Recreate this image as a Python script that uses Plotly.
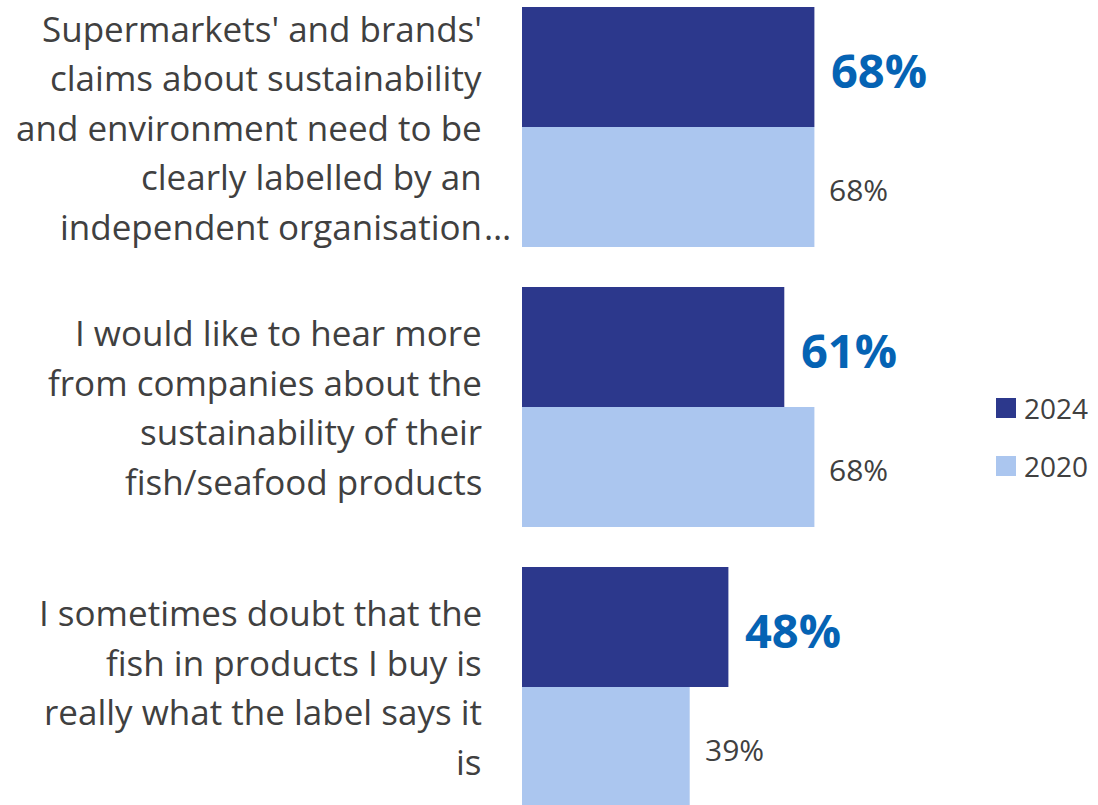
import plotly.graph_objects as go

# Survey statements (line breaks as shown on the axis)
categories = [
    "Supermarkets' and brands'<br>claims about sustainability<br>and environment need to be<br>clearly labelled by an<br>independent organisation…",
    "I would like to hear more<br>from companies about the<br>sustainability of their<br>fish/seafood products",
    "I sometimes doubt that the<br>fish in products I buy is<br>really what the label says it<br>is",
]
years = ["2024", "2020"]
values_2024 = [68, 61, 48]
values_2020 = [68, 68, 39]

NAVY = "#2C388C"
LIGHT = "#ABC6EF"
BLUE_LABEL = "#0563B4"
GREY = "#404040"
FONT = "Open Sans, Noto Sans, sans-serif"

W, H = 1098, 805
LEFT = 522
PX_PER_PCT = 4.3
BARGAP = 40 / 280

idx = list(range(len(categories)))

fig = go.Figure()
fig.add_trace(go.Bar(name=years[0], y=idx, x=values_2024, orientation="h",
                     marker=dict(color=NAVY, line=dict(width=0)), showlegend=False))
fig.add_trace(go.Bar(name=years[1], y=idx, x=values_2020, orientation="h",
                     marker=dict(color=LIGHT, line=dict(width=0)), showlegend=False))

half = (1 - BARGAP) / 4  # centre offset of each bar within its group

annotations = []
for i, (v24, v20) in enumerate(zip(values_2024, values_2020)):
    annotations.append(dict(x=v24, y=i - half, xref="x", yref="y", text=f"<b>{v24}%</b>",
                            showarrow=False, xanchor="left", yanchor="middle",
                            xshift=15, yshift=-3,
                            font=dict(family=FONT, size=47, color=BLUE_LABEL)))
    annotations.append(dict(x=v20, y=i + half, xref="x", yref="y", text=f"{v20}%",
                            showarrow=False, xanchor="left", yanchor="middle",
                            xshift=13, yshift=-2,
                            font=dict(family=FONT, size=30, color=GREY)))

# Category labels, one annotation per line for even line spacing;
# a trailing ellipsis hangs past the right edge of the text block
LINE_STEP = 49.5
LABEL_FONT = dict(family=FONT, size=35, color=GREY)
for i, cat in enumerate(categories):
    lines = cat.split("<br>")
    n = len(lines)
    for j, line in enumerate(lines):
        ys = -(j - (n - 1) / 2) * LINE_STEP
        tail = ""
        if line.endswith("…"):
            line, tail = line[:-1], "…"
        annotations.append(dict(x=0, y=i, xref="x", yref="y", text=line, showarrow=False,
                                xanchor="right", yanchor="middle", xshift=-38, yshift=ys,
                                font=LABEL_FONT))
        if tail:
            annotations.append(dict(x=0, y=i, xref="x", yref="y", text=tail, showarrow=False,
                                    xanchor="left", yanchor="middle", xshift=-40, yshift=ys,
                                    font=LABEL_FONT))

# Legend
legend_colors = [NAVY, LIGHT]
shapes = []
for k, (yr, col) in enumerate(zip(years, legend_colors)):
    yc = 1 - (408 + 58 * k) / H
    shapes.append(dict(type="rect", xref="paper", yref="paper",
                       x0=(996 - LEFT) / (W - LEFT), x1=(1016 - LEFT) / (W - LEFT),
                       y0=yc - 10 / H, y1=yc + 10 / H, fillcolor=col, line=dict(width=0)))
    annotations.append(dict(x=(1022 - LEFT) / (W - LEFT), y=yc, xref="paper", yref="paper",
                            text=yr, showarrow=False, xanchor="left", yanchor="middle",
                            font=dict(family=FONT, size=28, color=GREY)))

plot_w = W - LEFT
fig.update_layout(
    width=W, height=H,
    margin=dict(l=LEFT, r=0, t=0, b=0),
    paper_bgcolor="white", plot_bgcolor="white",
    barmode="group", bargap=BARGAP, bargroupgap=0,
    xaxis=dict(range=[0, plot_w / PX_PER_PCT], visible=False, fixedrange=True),
    yaxis=dict(range=[2 + (805 - 687) / 280, -127 / 280], visible=False, fixedrange=True),
    annotations=annotations, shapes=shapes,
    font=dict(family=FONT, color=GREY),
)

fig.write_html("out.html")
